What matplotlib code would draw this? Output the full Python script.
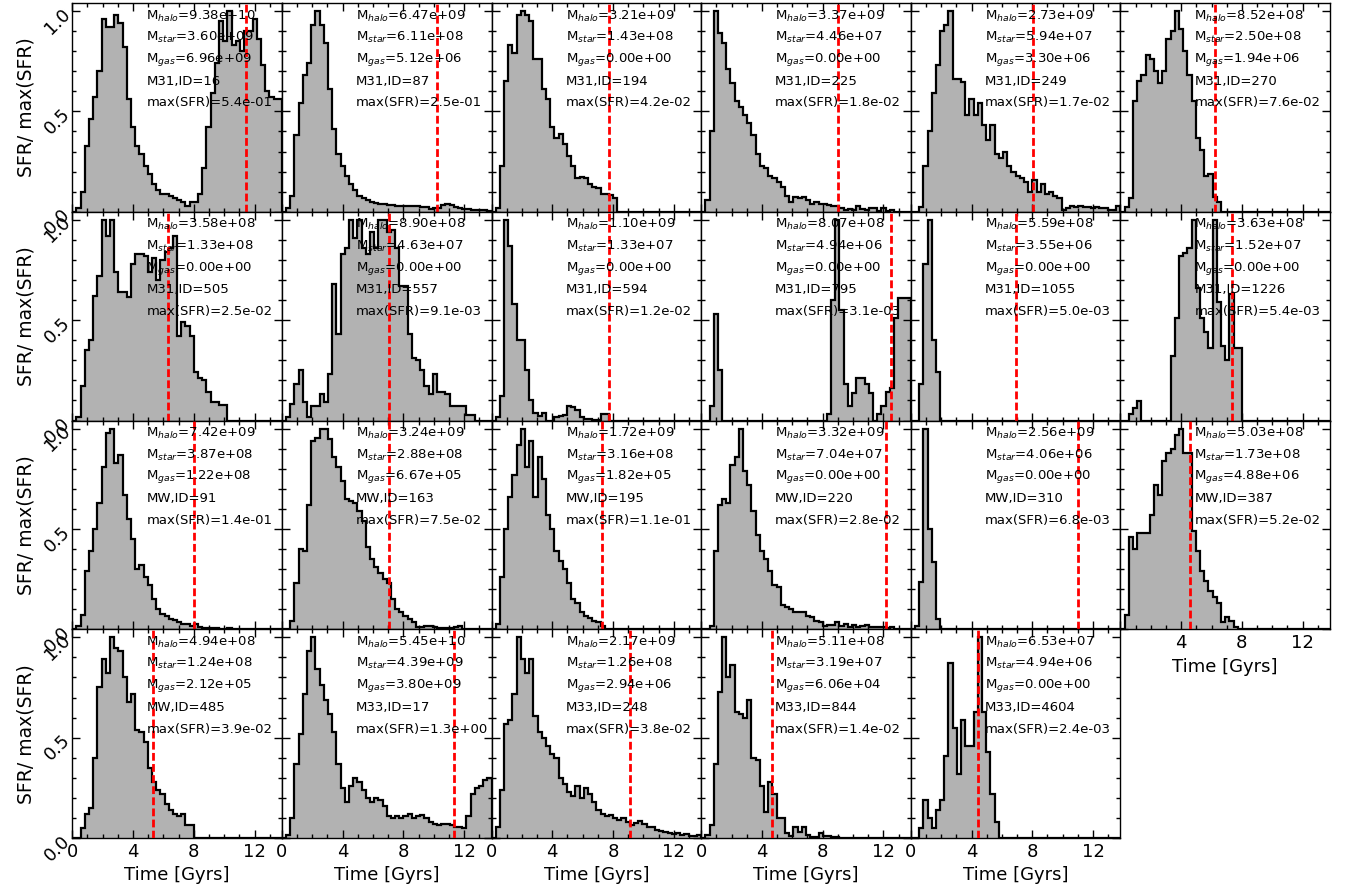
import numpy as np
import matplotlib
matplotlib.use("Agg")
import matplotlib.pyplot as plt
from matplotlib.ticker import MultipleLocator

T_MAX = 13.8
N_BINS = 50

# normalised SFR histograms (SFR / max(SFR)), bins of 13.8/50 Gyr starting at t=0
sfr_m31_16 = [0.0, 0.02, 0.10, 0.33, 0.46, 0.57, 0.70, 0.96, 0.92, 0.92, 0.98, 0.94, 0.82, 0.56, 0.42, 0.33, 0.29,
              0.23, 0.19, 0.14, 0.11, 0.09, 0.09, 0.08, 0.07, 0.06, 0.05, 0.03, 0.05, 0.05, 0.09, 0.22, 0.42, 0.59,
              0.74, 0.95, 0.85, 1.0, 0.83, 0.85, 0.80, 0.90, 0.90, 0.96, 0.86, 0.73, 0.60, 0.57, 0.56, 0.56]
sfr_m31_87 = [0.0, 0.02, 0.08, 0.385, 0.54, 0.68, 0.74, 0.93, 1.0, 0.93, 0.84, 0.61, 0.41, 0.29, 0.23, 0.18, 0.14,
              0.11, 0.08, 0.07, 0.06, 0.05, 0.045, 0.04, 0.04, 0.035, 0.035, 0.03, 0.03, 0.03, 0.03, 0.028, 0.028,
              0.025, 0.025, 0.015, 0.02, 0.02, 0.035, 0.04, 0.035, 0.025, 0.02, 0.015, 0.012, 0.01, 0.01, 0.008,
              0.008, 0.005]
sfr_m31_194 = [0.0, 0.02, 0.23, 0.65, 0.83, 0.79, 0.98, 1.0, 0.98, 0.95, 0.76, 0.76, 0.61, 0.56, 0.42, 0.37, 0.39,
               0.34, 0.28, 0.23, 0.17, 0.175, 0.17, 0.14, 0.125, 0.12, 0.09, 0.09, 0.085, 0.07]
sfr_m31_225 = [0.0, 0.06, 0.40, 1.0, 0.89, 0.84, 0.71, 0.64, 0.55, 0.52, 0.48, 0.44, 0.385, 0.29, 0.23, 0.22, 0.18,
               0.17, 0.15, 0.125, 0.08, 0.05, 0.075, 0.07, 0.075, 0.06, 0.04, 0.05, 0.04, 0.037, 0.035, 0.03, 0.03,
               0.02, 0.01, 0.013, 0.01, 0.03, 0.013, 0.01, 0.017, 0.017, 0.005, 0.017, 0.005, 0.01]
sfr_m31_249 = [0.0, 0.0, 0.025, 0.23, 0.40, 0.59, 0.73, 0.90, 0.93, 1.0, 0.66, 0.66, 0.645, 0.48, 0.56, 0.48, 0.54,
               0.43, 0.36, 0.43, 0.29, 0.27, 0.30, 0.23, 0.20, 0.18, 0.17, 0.15, 0.10, 0.16, 0.10, 0.14, 0.09, 0.10,
               0.08, 0.07, 0.01, 0.02, 0.03, 0.025, 0.03, 0.025, 0.025, 0.02, 0.025, 0.017, 0.017, 0.01, 0.01, 0.03]
sfr_m31_270 = [0.0, 0.025, 0.07, 0.55, 0.65, 0.68, 0.78, 0.76, 0.70, 0.64, 0.70, 0.86, 0.90, 1.0, 0.91, 0.80, 0.68,
               0.55, 0.37, 0.31, 0.18, 0.19, 0.075, 0.05]
sfr_m31_505 = [0.0, 0.017, 0.17, 0.35, 0.40, 0.62, 0.72, 1.0, 0.92, 1.0, 0.74, 0.64, 0.64, 0.615, 0.78, 0.83, 0.83,
               0.82, 0.74, 0.81, 0.70, 0.80, 0.84, 0.86, 0.92, 0.42, 0.49, 0.47, 0.42, 0.24, 0.21, 0.20, 0.14, 0.09,
               0.09, 0.075, 0.075]
sfr_m31_557 = [0.0, 0.017, 0.08, 0.18, 0.25, 0.09, 0.017, 0.07, 0.07, 0.13, 0.09, 0.23, 0.68, 0.43, 0.83, 0.86, 1.0,
               0.91, 1.0, 0.86, 0.83, 0.94, 0.86, 1.0, 1.0, 0.94, 0.95, 0.86, 0.67, 0.67, 0.43, 0.31, 0.30, 0.25,
               0.17, 0.13, 0.23, 0.14, 0.14, 0.13, 0.07, 0.07, 0.07, 0.07, 0.03, 0.03]
sfr_m31_594 = [0.0, 0.017, 0.12, 1.0, 0.87, 0.58, 0.40, 0.40, 0.25, 0.10, 0.04, 0.025, 0.04, 0.0, 0.0, 0.017, 0.025,
               0.03, 0.07, 0.065, 0.05, 0.017, 0.01, 0.008, 0.005, 0.005, 0.035, 0.035]
sfr_m31_795 = [0.0, 0.0, 0.07, 0.53, 0.25, 0.0, 0.0, 0.0, 0.0, 0.0, 0.0, 0.0, 0.0, 0.0, 0.0, 0.0, 0.0, 0.0, 0.0,
               0.0, 0.0, 0.0, 0.0, 0.0, 0.0, 0.0, 0.0, 0.0, 0.0, 0.0, 0.035, 0.60, 1.0, 0.55, 0.18, 0.07, 0.135,
               0.21, 0.21, 0.18, 0.135, 0.0, 0.035, 0.07, 0.14, 0.16, 0.51, 0.61, 0.61, 0.61]
sfr_m31_1055 = [0.0, 0.0, 0.18, 0.78, 1.0, 0.40, 0.24]
sfr_m31_1226 = [0.0, 0.0, 0.035, 0.06, 0.095, 0.0, 0.0, 0.0, 0.0, 0.0, 0.0, 0.0, 0.32, 0.51, 0.82, 0.835, 0.86, 1.0,
                0.66, 0.51, 0.44, 0.36, 1.0, 0.59, 0.37, 0.30, 0.63, 0.36, 0.36]
sfr_mw_91 = [0.0, 0.017, 0.07, 0.29, 0.39, 0.50, 0.63, 0.81, 0.98, 1.0, 0.83, 0.87, 0.67, 0.55, 0.45, 0.30, 0.32,
             0.26, 0.22, 0.15, 0.10, 0.076, 0.067, 0.05, 0.045, 0.034, 0.025, 0.025, 0.017, 0.025, 0.012, 0.007,
             0.005, 0.004, 0.004, 0.003, 0.003, 0.004, 0.002, 0.002]
sfr_mw_163 = [0.0, 0.0, 0.04, 0.23, 0.40, 0.39, 0.62, 0.94, 0.955, 1.0, 1.0, 0.95, 0.86, 0.81, 0.74, 0.65, 0.64,
              0.63, 0.59, 0.54, 0.41, 0.35, 0.31, 0.28, 0.25, 0.23, 0.15, 0.10, 0.088, 0.067, 0.05, 0.034, 0.012,
              0.013, 0.017, 0.017, 0.012, 0.008, 0.008, 0.005, 0.005, 0.012, 0.017]
sfr_mw_195 = [0.0, 0.025, 0.26, 0.50, 0.66, 0.77, 0.92, 1.0, 0.81, 0.94, 0.66, 0.86, 0.75, 0.57, 0.50, 0.39, 0.34,
              0.30, 0.23, 0.15, 0.13, 0.084, 0.067, 0.054, 0.042, 0.038, 0.017]
sfr_mw_220 = [0.0, 0.0, 0.017, 0.39, 0.62, 0.65, 0.63, 0.82, 0.86, 1.0, 0.79, 0.72, 0.59, 0.47, 0.39, 0.35, 0.29,
              0.22, 0.21, 0.12, 0.11, 0.10, 0.088, 0.088, 0.084, 0.067, 0.059, 0.042, 0.034, 0.017, 0.02, 0.022,
              0.034, 0.017, 0.025, 0.013, 0.02, 0.013, 0.017, 0.02, 0.013, 0.013, 0.013, 0.013, 0.008, 0.01]
sfr_mw_310 = [0.0, 0.017, 0.235, 1.0, 0.50, 0.335, 0.05]
sfr_mw_387 = [0.0, 0.07, 0.46, 0.40, 0.48, 0.48, 0.48, 0.57, 0.72, 0.67, 0.84, 0.88, 0.90, 0.97, 1.0, 0.88, 0.88,
              0.49, 0.39, 0.29, 0.24, 0.19, 0.16, 0.13, 0.034, 0.06, 0.042, 0.01]
sfr_mw_485 = [0.0, 0.0, 0.05, 0.12, 0.15, 0.40, 0.75, 0.89, 0.82, 1.0, 0.945, 0.93, 0.80, 0.68, 0.72, 0.54, 0.53,
              0.48, 0.35, 0.28, 0.24, 0.22, 0.17, 0.14, 0.12, 0.11, 0.12, 0.065, 0.065]
sfr_m33_17 = [0.0, 0.015, 0.10, 0.37, 0.52, 0.72, 0.93, 1.0, 0.84, 0.76, 0.69, 0.62, 0.53, 0.37, 0.25, 0.18, 0.26,
              0.30, 0.28, 0.24, 0.20, 0.18, 0.20, 0.19, 0.16, 0.11, 0.10, 0.11, 0.10, 0.11, 0.12, 0.10, 0.11, 0.115,
              0.10, 0.08, 0.07, 0.065, 0.07, 0.072, 0.065, 0.057, 0.057, 0.05, 0.11, 0.22, 0.25, 0.26, 0.29, 0.30]
sfr_m33_248 = [0.0, 0.057, 0.24, 0.57, 0.59, 0.72, 1.0, 0.89, 0.82, 0.89, 0.61, 0.53, 0.50, 0.46, 0.42, 0.40, 0.30,
               0.27, 0.23, 0.21, 0.26, 0.20, 0.25, 0.22, 0.18, 0.14, 0.12, 0.11, 0.115, 0.10, 0.09, 0.10, 0.08,
               0.065, 0.075, 0.085, 0.07, 0.057, 0.057, 0.04, 0.035, 0.03, 0.025, 0.02, 0.025, 0.015, 0.018, 0.012,
               0.012, 0.015]
sfr_m33_844 = [0.0, 0.015, 0.065, 0.37, 0.73, 1.0, 0.80, 0.86, 0.63, 0.62, 0.60, 0.69, 0.40, 0.39, 0.26, 0.13, 0.28,
               0.22, 0.10, 0.10, 0.023, 0.01, 0.057, 0.03, 0.057, 0.015, 0.004, 0.004, 0.023, 0.012, 0.008, 0.005,
               0.004]
sfr_m33_4604 = [0.0, 0.0, 0.05, 0.19, 0.10, 0.05, 0.14, 0.19, 0.41, 0.87, 0.55, 0.32, 0.59, 0.46, 0.46, 0.63, 1.0,
                0.63, 0.43, 0.22, 0.08]

histograms = [sfr_m31_16, sfr_m31_87, sfr_m31_194, sfr_m31_225, sfr_m31_249, sfr_m31_270,
              sfr_m31_505, sfr_m31_557, sfr_m31_594, sfr_m31_795, sfr_m31_1055, sfr_m31_1226,
              sfr_mw_91, sfr_mw_163, sfr_mw_195, sfr_mw_220, sfr_mw_310, sfr_mw_387,
              sfr_mw_485, sfr_m33_17, sfr_m33_248, sfr_m33_844, sfr_m33_4604]

m_halo = ["9.38e+10", "6.47e+09", "3.21e+09", "3.37e+09", "2.73e+09", "8.52e+08",
          "3.58e+08", "8.90e+08", "1.10e+09", "8.07e+08", "5.59e+08", "3.63e+08",
          "7.42e+09", "3.24e+09", "1.72e+09", "3.32e+09", "2.56e+09", "5.03e+08",
          "4.94e+08", "5.45e+10", "2.17e+09", "5.11e+08", "6.53e+07"]
m_star = ["3.60e+09", "6.11e+08", "1.43e+08", "4.46e+07", "5.94e+07", "2.50e+08",
          "1.33e+08", "4.63e+07", "1.33e+07", "4.94e+06", "3.55e+06", "1.52e+07",
          "3.87e+08", "2.88e+08", "3.16e+08", "7.04e+07", "4.06e+06", "1.73e+08",
          "1.24e+08", "4.39e+09", "1.26e+08", "3.19e+07", "4.94e+06"]
m_gas = ["6.96e+09", "5.12e+06", "0.00e+00", "0.00e+00", "3.30e+06", "1.94e+06",
         "0.00e+00", "0.00e+00", "0.00e+00", "0.00e+00", "0.00e+00", "0.00e+00",
         "1.22e+08", "6.67e+05", "1.82e+05", "0.00e+00", "0.00e+00", "4.88e+06",
         "2.12e+05", "3.80e+09", "2.94e+06", "6.06e+04", "0.00e+00"]
host = ["M31"] * 12 + ["MW"] * 7 + ["M33"] * 4
gal_id = [16, 87, 194, 225, 249, 270, 505, 557, 594, 795, 1055, 1226,
          91, 163, 195, 220, 310, 387, 485, 17, 248, 844, 4604]
max_sfr = ["5.4e-01", "2.5e-01", "4.2e-02", "1.8e-02", "1.7e-02", "7.6e-02",
           "2.5e-02", "9.1e-03", "1.2e-02", "3.1e-03", "5.0e-03", "5.4e-03",
           "1.4e-01", "7.5e-02", "1.1e-01", "2.8e-02", "6.8e-03", "5.2e-02",
           "3.9e-02", "1.3e+00", "3.8e-02", "1.4e-02", "2.4e-03"]
t_mark = [11.45, 10.22, 7.71, 9.01, 8.05, 6.26,
          6.33, 7.03, 7.71, 12.5, 6.9, 7.34,
          8.04, 7.08, 7.27, 12.15, 11.03, 4.59,
          5.34, 11.32, 9.12, 4.66, 4.44]

x_ticks = [0, 4, 8, 12]
y_ticks = [0.0, 0.5, 1.0]

fig = plt.figure(figsize=(13.49, 8.92), dpi=100)
axes = fig.subplots(4, 6)
fig.subplots_adjust(left=0.0536, right=0.9859, top=0.9966, bottom=0.0605, wspace=0, hspace=0)
edges = np.linspace(0, T_MAX, N_BINS + 1)

for k in range(24):
    r, c = divmod(k, 6)
    ax = axes[r, c]
    if k >= len(histograms):
        ax.axis("off")
        continue
    vals = np.zeros(N_BINS)
    h = histograms[k]
    vals[:len(h)] = h
    ax.stairs(vals, edges, fill=True, facecolor="#b2b2b2", edgecolor="none", zorder=1)
    ax.stairs(vals, edges, fill=False, color="black", lw=1.6, baseline=0, zorder=2)
    ax.axvline(t_mark[k], color="red", lw=2, ls=(0, (2.8, 1.2)), zorder=3)
    lines = [r"M$_{halo}$=" + m_halo[k], r"M$_{star}$=" + m_star[k], r"M$_{gas}$=" + m_gas[k],
             f"{host[k]},ID={gal_id[k]}", f"max(SFR)={max_sfr[k]}"]
    for j, s in enumerate(lines):
        ax.text(0.353, 0.938 - 0.104 * j, s, transform=ax.transAxes, fontsize=9.5,
                va="center", ha="left", zorder=4)
    ax.set_xlim(0, T_MAX)
    ax.set_ylim(0, 1.04)
    ax.set_xticks(x_ticks)
    ax.set_yticks(y_ticks)
    ax.xaxis.set_minor_locator(MultipleLocator(1))
    ax.yaxis.set_minor_locator(MultipleLocator(0.1))
    ax.tick_params(which="both", direction="in", top=True, right=True, labelsize=13)
    ax.tick_params(which="major", length=6, width=1)
    ax.tick_params(which="minor", length=3, width=1)
    for sp in ax.spines.values():
        sp.set_linewidth(1.0)
    if c == 0:
        ax.set_ylabel("SFR/ max(SFR)", fontsize=13.5)
        for lab in ax.get_yticklabels():
            lab.set_rotation(45)
            lab.set_rotation_mode("anchor")
            lab.set_ha("right")
            lab.set_va("center")
    else:
        ax.set_yticklabels([])
    bottom_panel = (r == 3) or (k == 17)
    if bottom_panel:
        ax.set_xlabel("Time [Gyrs]", fontsize=13)
        if k == 17:
            ax.set_xticklabels(["", "4", "8", "12"])
    else:
        ax.set_xticklabels([])

fig.savefig("out.png", dpi=100)
